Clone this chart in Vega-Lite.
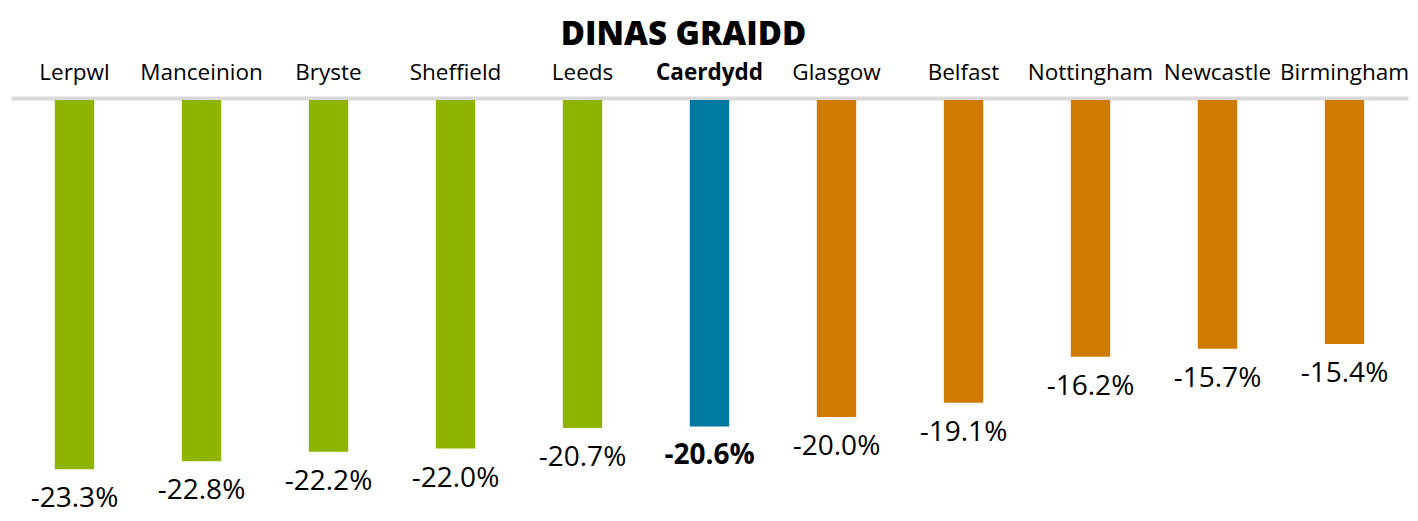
{
  "$schema": "https://vega.github.io/schema/vega-lite/v6.json",
  "width": 1397,
  "height": 412,
  "autosize": {"type": "none"},
  "padding": {"left": 11, "top": 98, "right": 10, "bottom": 11},
  "background": "white",
  "config": {
    "view": {"stroke": null},
    "font": "Open Sans",
    "locale": {"number": {"decimal": ".", "thousands": ",", "grouping": [3], "currency": ["", ""], "minus": "-", "percent": "%"}}
  },
  "title": {"text": "DINAS GRAIDD", "fontSize": 33, "fontWeight": 800, "font": "Open Sans", "color": "#000000", "anchor": "middle", "offset": 9, "dx": -26},
  "data": {"values": [
    {"city": "Lerpwl", "value": -0.233, "group": "other"},
    {"city": "Manceinion", "value": -0.228, "group": "other"},
    {"city": "Bryste", "value": -0.222, "group": "other"},
    {"city": "Sheffield", "value": -0.220, "group": "other"},
    {"city": "Leeds", "value": -0.207, "group": "other"},
    {"city": "Caerdydd", "value": -0.206, "group": "cardiff"},
    {"city": "Glasgow", "value": -0.200, "group": "better"},
    {"city": "Belfast", "value": -0.191, "group": "better"},
    {"city": "Nottingham", "value": -0.162, "group": "better"},
    {"city": "Newcastle", "value": -0.157, "group": "better"},
    {"city": "Birmingham", "value": -0.154, "group": "better"}
  ]},
  "encoding": {
    "x": {
      "field": "city", "type": "nominal", "sort": null,
      "scale": {"paddingInner": 0.69, "paddingOuter": 0.345},
      "axis": {
        "orient": "top", "title": null, "ticks": false, "tickSize": 0,
        "domain": true, "domainColor": "#d9d9d9", "domainWidth": 4,
        "labelAngle": 0, "labelFontSize": 22.5, "labelColor": "#000000",
        "labelPadding": 14, "labelFont": "Open Sans",
        "labelFontWeight": {"condition": {"test": "datum.value == 'Caerdydd'", "value": "bold"}, "value": "normal"}
      }
    },
    "y": {
      "field": "value", "type": "quantitative",
      "scale": {"domain": [-0.26, 0], "nice": false},
      "axis": null
    }
  },
  "layer": [
    {
      "mark": {"type": "bar", "yOffset": 2},
      "encoding": {
        "color": {
          "field": "group", "type": "nominal", "legend": null,
          "scale": {"domain": ["other", "cardiff", "better"], "range": ["#8fb400", "#0079a0", "#cf7a00"]}
        }
      }
    },
    {
      "transform": [{"filter": "datum.city != 'Caerdydd'"}],
      "mark": {"type": "text", "baseline": "top", "dy": 18, "fontSize": 28, "color": "#000000", "font": "Open Sans", "fontWeight": "normal"},
      "encoding": {
        "text": {"field": "value", "type": "quantitative", "format": ".1%"}
      }
    },
    {
      "transform": [{"filter": "datum.city == 'Caerdydd'"}],
      "mark": {"type": "text", "baseline": "top", "dy": 18, "fontSize": 28, "color": "#000000", "font": "Open Sans", "fontWeight": "bold"},
      "encoding": {
        "text": {"field": "value", "type": "quantitative", "format": ".1%"}
      }
    }
  ]
}
